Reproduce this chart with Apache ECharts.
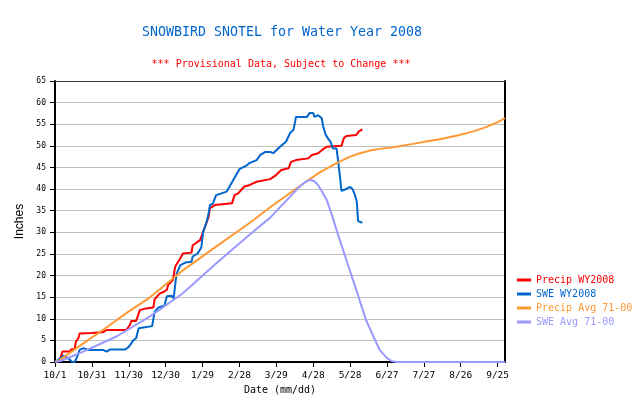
<!DOCTYPE html>
<html>
<head>
<meta charset="utf-8">
<script src="https://cdn.jsdelivr.net/npm/echarts@6/dist/echarts.min.js"></script>
<style>
html,body{margin:0;padding:0;background:#fff;}
#c{width:635px;height:413px;}
</style>
</head>
<body>
<div id="c"></div>
<script>
// X tick labels (every 30 days from 10/1)
var xTickLabels = ['10/1','10/31','11/30','12/30','1/29','2/28','3/29','4/28','5/28','6/27','7/27','8/26','9/25'];
var seriesNames = ['Precip WY2008','SWE WY2008','Precip Avg 71-00','SWE Avg 71-00'];
var seriesColors = ['#ff0000','#0066cc','#ff9933','#9999ff'];

// Precip WY2008 (day of water year, inches)
var precipDays = [0,4,6,12,13,16,17,19,20,30,31,39,42,58,61,62,66,69,74,80,81,85,89,91,92,96,97,98,102,104,111,112,118,121,125,126,130,136,144,146,149,154,158,164,175,180,184,190,192,196,206,209,214,217,221,233,235,237,245,247,250];
var precipVals = [0,0.5,2.4,2.4,2.9,3.0,4.7,5.5,6.6,6.7,6.9,6.9,7.4,7.4,8.6,9.5,9.5,12.0,12.4,12.6,14.5,15.8,16.3,16.7,17.8,19.0,20.9,22.2,24.0,25.1,25.3,27.0,28.2,30.5,33.6,35.6,36.3,36.5,36.7,38.6,39.0,40.6,40.9,41.7,42.3,43.3,44.4,44.8,46.3,46.7,47.1,47.9,48.3,49.0,49.8,50.0,51.8,52.3,52.5,53.3,53.8];

// SWE WY2008
var sweDays = [0,4,7,8,11,14,16,18,20,23,27,39,42,45,57,60,64,66,68,69,79,81,84,89,91,95,96.5,98,99,102,106,111,112,116,119,120.5,123,125,126,128.5,131,135.5,139.5,142,145,148,150,154,156,158,164,167,171,175,177.5,183,188,191,194,196,205,207,210,211,214,217,218,220,222,224,226,229,230,231.5,233,236,240,242,244,245.5,246.5,250];
var sweVals = [0,0.8,1.5,1.8,0.8,0,0,1.2,2.8,3.2,2.8,2.8,2.4,2.9,2.9,3.5,5.1,5.5,7.8,8.2,8.3,11.6,12.6,13.0,15.2,15.3,14.7,18.5,20.5,22.4,23.0,23.2,24.4,25.1,26.5,30.1,32.1,34.4,36.3,36.7,38.6,39.0,39.4,40.6,42.1,43.6,44.6,45.2,45.5,46.0,46.7,47.9,48.6,48.6,48.3,49.8,51.0,52.9,53.7,56.7,56.7,57.6,57.6,56.7,57.1,56.4,54.6,52.7,51.7,51.0,49.4,49.4,47.1,43.6,39.6,39.9,40.5,40.0,38.6,37.0,32.6,32.2];

// Precip Avg 71-00
var precipAvgDays = [0,4,23,39,58,77,93,104,131,158,175,202,215,229,240,248,256,264,275,290,302,316,329,341,351,360,366];
var precipAvgVals = [0,0.5,4.3,7.4,11.3,14.9,18.6,21.2,26.7,32.1,35.8,41.3,43.8,46.0,47.5,48.3,48.9,49.3,49.7,50.4,51.0,51.7,52.5,53.4,54.4,55.5,56.4];

// SWE Avg 71-00
var sweAvgDays = [0,5,23,50,77,100,104,131,158,175,191,198,202,205,208,211,214,217,221,225,229,237,245,253,259,264,270,274,278,366];
var sweAvgVals = [0,0.3,2.4,5.9,10.5,15.1,15.9,22.8,29.4,33.4,38.2,40.3,41.3,41.9,42.1,41.8,40.9,39.5,37.5,34.2,30.5,23.6,16.7,9.7,5.9,2.8,0.9,0.2,0,0];

function pairs(d, v){ return d.map(function(x,i){ return [x, v[i]]; }); }
var allData = [pairs(precipDays,precipVals), pairs(sweDays,sweVals), pairs(precipAvgDays,precipAvgVals), pairs(sweAvgDays,sweAvgVals)];

var mono = 'DejaVu Sans Mono';
var chart = echarts.init(document.getElementById('c'), null, {renderer:'canvas'});
chart.setOption({
  animation:false,
  backgroundColor:'#ffffff',
  title:[
    {text:'SNOWBIRD SNOTEL for Water Year 2008', left:282, top:26, textAlign:'center', padding:0,
     textStyle:{color:'#0066cc', fontFamily:mono, fontSize:13.3, fontWeight:'normal'}},
    {text:'*** Provisional Data, Subject to Change ***', left:281, top:59, textAlign:'center', padding:0,
     textStyle:{color:'#ff0000', fontFamily:mono, fontSize:10, fontWeight:'normal'}}
  ],
  legend:{
    orient:'vertical', left:517, top:274, itemWidth:14, itemHeight:3, itemGap:2, icon:'rect', padding:0,
    textStyle:{fontFamily:mono, fontSize:10, lineHeight:12, padding:[0,0,0,0]},
    data: seriesNames.map(function(n,i){ return {name:n, textStyle:{color:seriesColors[i]}}; })
  },
  grid:{left:55, right:130, top:81, bottom:51, containLabel:false},
  xAxis:[{
    type:'value', min:0, max:366, interval:30,
    name:'Date (mm/dd)', nameLocation:'middle', nameGap:23,
    nameTextStyle:{fontFamily:mono, fontSize:10, color:'#000'},
    axisLine:{onZero:false, lineStyle:{color:'#000', width:2}},
    axisTick:{show:true, length:5, lineStyle:{color:'#000', width:1}},
    axisLabel:{fontFamily:mono, fontSize:9.5, color:'#000', margin:9, showMaxLabel:false,
      formatter:function(v){ return (v % 30 === 0 && xTickLabels[v/30]) ? xTickLabels[v/30] : ''; }},
    splitLine:{show:false}
  },{
    type:'value', position:'top', min:0, max:366,
    axisLine:{onZero:false, lineStyle:{color:'#333', width:1}},
    axisTick:{show:false}, axisLabel:{show:false}, splitLine:{show:false}
  }],
  yAxis:[{
    type:'value', min:0, max:65, interval:5,
    name:'Inches', nameLocation:'middle', nameGap:20, nameRotate:90,
    nameTextStyle:{fontFamily:'Liberation Sans', fontSize:12, color:'#000'},
    axisLine:{onZero:false, lineStyle:{color:'#000', width:2}},
    axisTick:{show:true, length:5, lineStyle:{color:'#000', width:1}},
    axisLabel:{fontFamily:mono, fontSize:8, color:'#000', margin:9},
    splitLine:{show:true, lineStyle:{color:'#c0c0c0', width:1}}
  },{
    type:'value', position:'right', min:0, max:65,
    axisLine:{show:true, onZero:false, lineStyle:{color:'#000', width:2}},
    axisTick:{show:false}, axisLabel:{show:false}, splitLine:{show:false}
  }],
  series: seriesNames.map(function(n,i){
    return {name:n, type:'line', data:allData[i], showSymbol:false, symbol:'none',
      lineStyle:{color:seriesColors[i], width:2}, itemStyle:{color:seriesColors[i]}, z:2+i};
  })
});
</script>
</body>
</html>
